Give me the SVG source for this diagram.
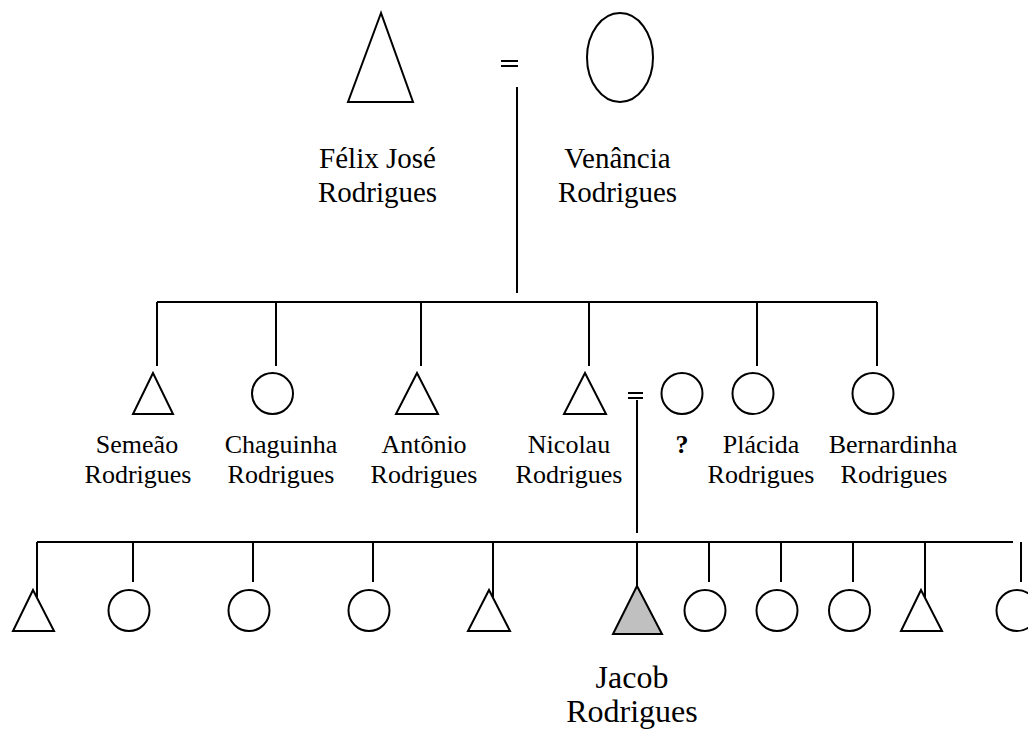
<svg xmlns="http://www.w3.org/2000/svg" width="1028" height="731" viewBox="0 0 1028 731">
<style>
.s{fill:#fff;stroke:#000;stroke-width:2}
.l{stroke:#000;stroke-width:2;fill:none}
.t{font-family:"Liberation Serif","Times New Roman",serif;fill:#000;text-anchor:middle}
.t1{font-size:29px}
.t2{font-size:26px}
.t3{font-size:32px}
</style>
<rect width="1028" height="731" fill="#fff"/>
<g id="connectors" class="l">
<path d="M501,61H518M501,66H518"/>
<path d="M517,87V293"/>
<path d="M157,302H877"/>
<path d="M157,302V366M276,302V366M421,302V366M589,302V366M757,302V366M877,302V366"/>
<path d="M628,393H643M628,398H643"/>
<path d="M637,400V533"/>
<path d="M37,542H1013"/>
<path d="M37,542V597M133,542V582M253,542V582M373,542V582M493,542V597M637,542V587M709,542V582M781,542V582M853,542V582M925,542V598M1021,542V582"/>
</g>
<g id="felix"><polygon class="s" points="381,13 348,102 413,102"/><text class="t t1" x="377.5" y="168">Félix José</text><text class="t t1" x="377.5" y="202">Rodrigues</text></g>
<g id="venancia"><ellipse class="s" cx="620" cy="57.5" rx="33" ry="44.5"/><text class="t t1" x="617.5" y="168">Venância</text><text class="t t1" x="617.5" y="202">Rodrigues</text></g>
<g id="semeao"><polygon class="s" points="153,373 133,414 173,414"/><text class="t t2" x="137" y="453">Semeão</text><text class="t t2" x="138" y="483">Rodrigues</text></g>
<g id="chaguinha"><circle class="s" cx="272.5" cy="393.5" r="20.5"/><text class="t t2" x="281" y="453">Chaguinha</text><text class="t t2" x="281" y="483">Rodrigues</text></g>
<g id="antonio"><polygon class="s" points="417,373 396,414 438,414"/><text class="t t2" x="424" y="453">Antônio</text><text class="t t2" x="424" y="483">Rodrigues</text></g>
<g id="nicolau"><polygon class="s" points="585,373 564,414 606,414"/><text class="t t2" x="569" y="453">Nicolau</text><text class="t t2" x="569" y="483">Rodrigues</text></g>
<g id="spouse"><circle class="s" cx="682" cy="393.5" r="20.5"/><text class="t t2" x="682" y="453" font-weight="bold">?</text></g>
<g id="placida"><circle class="s" cx="753" cy="393.5" r="20.5"/><text class="t t2" x="761" y="453">Plácida</text><text class="t t2" x="761" y="483">Rodrigues</text></g>
<g id="bernardinha"><circle class="s" cx="873" cy="393.5" r="20.5"/><text class="t t2" x="893" y="453">Bernardinha</text><text class="t t2" x="894" y="483">Rodrigues</text></g>
<g id="c1"><polygon class="s" points="33,590 13,631 54,631"/></g>
<g id="c2"><circle class="s" cx="129" cy="610.5" r="20.5"/></g>
<g id="c3"><circle class="s" cx="249" cy="610.5" r="20.5"/></g>
<g id="c4"><circle class="s" cx="369" cy="610.5" r="20.5"/></g>
<g id="c5"><polygon class="s" points="489,590 468,631 510,631"/></g>
<g id="jacob"><polygon class="s" fill="#c0c0c0" style="fill:#c0c0c0" points="637,586 613,634 662,634"/><text class="t t3" x="632" y="688">Jacob</text><text class="t t3" x="632" y="722">Rodrigues</text></g>
<g id="c7"><circle class="s" cx="705" cy="610.5" r="20.5"/></g>
<g id="c8"><circle class="s" cx="777" cy="610.5" r="20.5"/></g>
<g id="c9"><circle class="s" cx="849.5" cy="610.5" r="20.5"/></g>
<g id="c10"><polygon class="s" points="921,590 901,631 942,631"/></g>
<g id="c11"><circle class="s" cx="1017" cy="610.5" r="20.5"/></g>
</svg>
